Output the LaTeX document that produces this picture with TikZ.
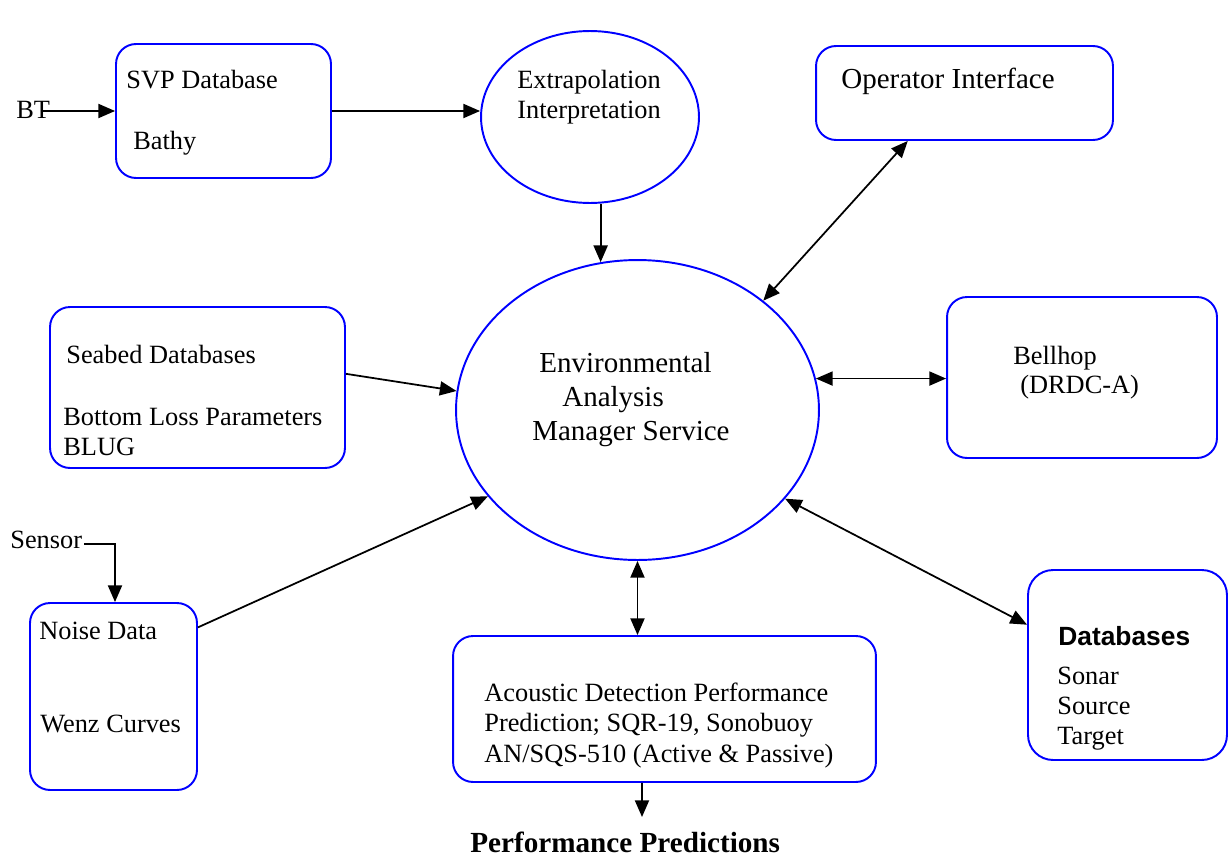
\documentclass[tikz,border=0pt]{standalone}
\usepackage{fontspec}
\setmainfont{Liberation Serif}
\newfontfamily\arialf{Liberation Sans}
\usetikzlibrary{shapes.geometric,arrows.meta,calc}
\definecolor{boxblue}{RGB}{0,0,255}
\tikzset{
  box/.style={draw=boxblue, line width=1.1pt, rounded corners=0.4cm, inner sep=0pt},
  oval/.style={draw=boxblue, line width=1.1pt, ellipse, inner sep=0pt},
  lbl/.style={anchor=base west, inner sep=0pt, font=\fontsize{15}{18}\selectfont},
  biglbl/.style={anchor=base west, inner sep=0pt, font=\fontsize{16.5}{20}\selectfont},
  tip/.style={},
  arr/.style={line width=1pt, -{Triangle[length=9.5pt,width=8pt]}},
  darr/.style={line width=1pt, {Triangle[length=9.5pt,width=8pt]}-{Triangle[length=9.5pt,width=8pt]}}
}
\begin{document}
\begin{tikzpicture}[x=0.02cm, y=-0.02cm]
\useasboundingbox (0,0) rectangle (1228,859);
% shapes
\node[box, minimum width=4.30cm, minimum height=2.68cm] (svp) at (223.5,111) {};
\node[box, minimum width=5.94cm, minimum height=1.88cm] (op) at (964.5,93) {};
\node[box, minimum width=5.90cm, minimum height=3.22cm] (seab) at (197.5,387.5) {};
\node[box, minimum width=5.40cm, minimum height=3.22cm] (bell) at (1082,377.5) {};
\node[box, minimum width=3.34cm, minimum height=3.74cm] (noise) at (113.5,696.5) {};
\node[box, minimum width=8.46cm, minimum height=2.92cm] (acou) at (664.5,709) {};
\node[box, minimum width=3.98cm, minimum height=3.80cm, rounded corners=0.5cm] (db) at (1127.5,665) {};
\node[oval, minimum width=4.36cm, minimum height=3.44cm] (extrap) at (590,117) {};
\node[oval, minimum width=7.26cm, minimum height=6.00cm] (main) at (637.5,410) {};
% texts
\node[lbl] (bt) at (16,118) {BT};
\node[lbl] (svpt1) at (126,88) {SVP Database};
\node[lbl] (svpt2) at (133,149) {Bathy};
\node[lbl] (ext1) at (517,88) {Extrapolation};
\node[lbl] (ext2) at (517,118) {Interpretation};
\node[biglbl] (opt) at (841,88) {Operator Interface};
\node[lbl] (seat1) at (66,363) {Seabed Databases};
\node[lbl] (seat2) at (63,425) {Bottom Loss Parameters};
\node[lbl] (seat3) at (63,455) {BLUG};
\node[biglbl] (mt1) at (539,372) {Environmental};
\node[biglbl] (mt2) at (562,406) {Analysis};
\node[biglbl] (mt3) at (532,440) {Manager Service};
\node[lbl] (bt1) at (1013,364) {Bellhop};
\node[lbl] (bt2) at (1020,393) {(DRDC-A)};
\node[lbl] (sensor) at (10,548) {Sensor};
\node[lbl] (nt1) at (39,639) {Noise Data};
\node[lbl] (nt2) at (40,732) {Wenz Curves};
\node[lbl] (at1) at (484,701) {Acoustic Detection Performance};
\node[lbl] (at2) at (484,731) {Prediction; SQR-19, Sonobuoy};
\node[lbl] (at3) at (484,762) {AN/SQS-510 (Active \& Passive)};
\node[anchor=base west, inner sep=0pt, font=\arialf\bfseries\fontsize{15}{18}\selectfont] (dbt) at (1058,645) {Databases};
\node[lbl] (dbt1) at (1057,684) {Sonar};
\node[lbl] (dbt2) at (1057,714) {Source};
\node[lbl] (dbt3) at (1057,744) {Target};
\node[anchor=base west, inner sep=0pt, font=\bfseries\fontsize{16.6}{20}\selectfont] (pp) at (470,852) {Performance Predictions};
% coordinates
\coordinate (btstart) at (43,111);
\coordinate (sensstart) at (84,544);
\coordinate (sensbend) at (115,544);
\coordinate (ppend) at (642,817);
% connectors
\draw[arr] (btstart) -- (btstart -| svp.west);
\draw[arr] (svp.east) -- (svp.east -| extrap.west);
\draw[arr] (main.104.7 |- extrap.south) -- (main.104.7);
\draw[darr] ($(op.south west)!0.31!(op.south east)$) -- (main.41.2);
\draw[darr] (main.10.6) -- (main.10.6 -| bell.west);
\draw[arr] ($(seab.north east)!0.416!(seab.south east)$) -- (main.174.3);
\draw[arr] ($(noise.north east)!0.134!(noise.south east)$) -- (main.210.2);
\draw[darr] (main.329.5) -- ($(db.north west)!0.29!(db.south west)$);
\draw[darr] (main.south) -- (main.south |- acou.north);
\draw[arr] ($(acou.south west)!0.447!(acou.south east)$) -- (ppend);
\draw[arr] (sensstart) -- (sensbend) -- (sensbend |- noise.north);
\end{tikzpicture}
\end{document}
